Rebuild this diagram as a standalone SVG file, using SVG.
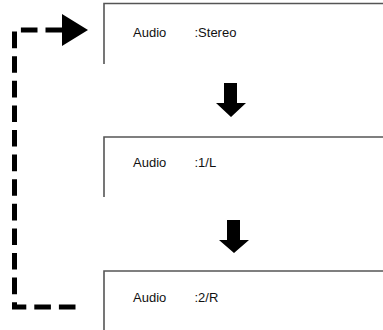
<svg xmlns="http://www.w3.org/2000/svg" width="383" height="330" viewBox="0 0 383 330">
<style>
.box{fill:none;stroke:#555;stroke-width:1.6}
.lbl{font-family:"Liberation Sans",Arial,sans-serif;font-size:13px;fill:#111}
.dash{fill:none;stroke:#000;stroke-width:5;stroke-dasharray:16.6 8}
.arr{fill:#000}
</style>
<rect width="383" height="330" fill="#fff"/>
<g id="node-stereo">
<polyline class="box" points="104,64 104,3.5 383,3.5"/>
<text class="lbl" x="133" y="36.5">Audio</text>
<text class="lbl" x="194.5" y="36.5">:Stereo</text>
</g>
<g id="node-1L">
<polyline class="box" points="104,197 104,137 383,137"/>
<text class="lbl" x="133" y="167">Audio</text>
<text class="lbl" x="194.5" y="167">:1/L</text>
</g>
<g id="node-2R">
<polyline class="box" points="104,330 104,271 383,271"/>
<text class="lbl" x="133" y="301.5">Audio</text>
<text class="lbl" x="194.5" y="301.5">:2/R</text>
</g>
<g id="connectors">
<path class="arr" d="M224,83 H237 V103 H246 L231,117 L216,103 H224 Z"/>
<path class="arr" d="M227,220 H240 V240 H249 L234,253 L219,240 H227 Z"/>
<path class="dash" d="M75.5,307 H14.5 V30 H62"/>
<polygon class="arr" points="62,14 88,30 62,46"/>
</g>
</svg>
